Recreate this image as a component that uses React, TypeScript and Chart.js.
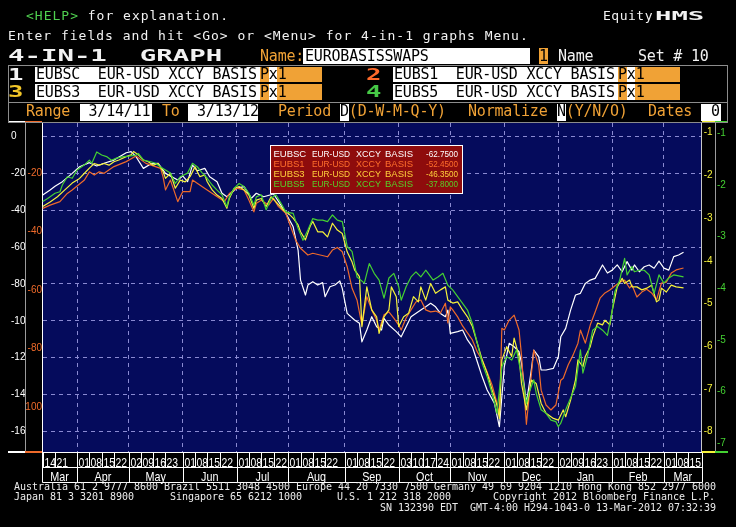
import React, { useEffect, useRef } from "react";
import { Chart, registerables } from "chart.js";

Chart.register(...registerables);

// ---------------- data (x = trading-day index from 14-Mar-2011) ----------------
const seriesCodes = ["EUBSC", "EUBS1", "EUBS3", "EUBS5"];
const seriesDesc = "EUR-USD XCCY BASIS";

const eubscDays = [0,3,5,8,12,15,19,22,25,29,34,36,38,41,44,47,50,55,57,59,61,63,66,68,71,73,75,79,82,85,87,90,94,97,99,102,104,105,107,108,110,112,114,115,117,119,121,122,124,127,129,130,132,134,136,138,139,141,144,146,148,150,154,156,158,160,162,164,165,166,169,171,173,175,177,179,181,184,186,188,190,192,194,195,197,199,200,202,203,205,208,210,211,213,215,217,219,221,223,225,228,230,232,234,236,238,240,241,243,245,247,249,251,253,255,257,259,261];
const eubscVals = [-31.7,-29.0,-27.0,-24.5,-20.0,-16.4,-14.2,-16.0,-14.5,-12.8,-8.8,-8.2,-11.0,-17.3,-14.9,-14.5,-20.0,-23.6,-21.4,-24.5,-15.5,-18.6,-17.3,-21.8,-24.5,-30.8,-32.7,-28.1,-27.2,-33.5,-30.8,-32.7,-31.2,-37.2,-41.7,-49.0,-61.6,-77.9,-86.0,-80.6,-78.8,-80.6,-79.3,-86.9,-81.5,-80.6,-78.4,-82.4,-96.0,-99.6,-101.4,-111.4,-105.0,-97.8,-103.2,-105.0,-98.7,-102.3,-105.9,-108.7,-103.2,-97.8,-94.2,-92.4,-90.5,-92.4,-96.0,-97.8,-94.2,-106.8,-105.9,-105.0,-110.4,-114.1,-122.2,-130.4,-137.6,-144.8,-157.5,-124.9,-112.2,-114.1,-116.8,-122.9,-144.8,-126.7,-115.9,-119.5,-126.7,-126.7,-125.8,-119.5,-108.7,-104.1,-94.2,-86.0,-85.1,-79.7,-77.9,-77.0,-69.7,-74.1,-72.5,-69.7,-73.4,-67.9,-72.5,-69.7,-73.4,-70.7,-69.7,-71.5,-67.6,-71.4,-72.5,-65.2,-64.3,-62.75];

const eubs1Days = [0,3,7,10,12,17,19,21,23,25,29,34,38,42,48,49,50,52,55,57,60,61,65,70,74,76,79,82,84,86,87,89,92,94,96,99,101,103,105,108,110,113,116,118,120,122,124,126,128,130,132,134,136,137,139,141,143,145,146,148,150,152,154,156,158,160,162,164,165,166,167,169,171,173,175,177,179,181,183,185,186,187,188,190,192,194,195,197,199,200,202,203,205,207,209,211,212,214,216,218,219,221,223,225,227,229,231,233,235,237,239,240,242,244,246,248,250,252,254,256,258,261];
const eubs1Vals = [-32.0,-30.9,-29.7,-26.9,-25.7,-22.3,-19.5,-20.6,-19.5,-20.0,-17.7,-16.0,-14.1,-16.6,-18.3,-21.2,-25.7,-22.3,-29.7,-26.3,-26.3,-22.3,-24.6,-27.4,-29.7,-26.9,-25.1,-25.7,-29.2,-33.2,-30.3,-29.2,-30.9,-28.6,-31.4,-33.7,-38.3,-42.9,-45.7,-48.0,-47.4,-48.0,-48.6,-46.3,-45.4,-46.9,-52.0,-59.4,-63.4,-72.0,-62.3,-66.8,-70.3,-73.7,-68.5,-67.5,-69.6,-72.0,-73.7,-69.6,-66.8,-64.1,-63.4,-66.8,-67.5,-67.2,-67.9,-64.5,-71.3,-65.8,-66.8,-69.2,-72.3,-74.7,-77.1,-81.2,-84.0,-88.1,-92.5,-98.7,-102.8,-73.1,-73.7,-70.3,-68.6,-73.7,-82.3,-106.0,-89.1,-80.6,-85.7,-94.3,-99.4,-101.1,-99.4,-90.9,-90.2,-85.7,-82.3,-78.2,-73.7,-78.2,-72.0,-67.5,-62.8,-61.0,-60.0,-58.6,-57.3,-56.6,-59.3,-58.3,-62.4,-60.7,-59.7,-61.0,-63.4,-57.6,-57.3,-54.2,-53.1,-52.45];

const eubs3Days = [0,3,6,9,12,15,17,19,21,23,25,27,29,31,34,36,37,39,41,43,45,47,49,50,52,54,56,58,60,62,64,66,67,69,71,73,75,76,78,80,82,84,86,87,89,91,93,95,98,100,102,104,105,107,109,110,112,114,116,118,120,122,124,126,127,129,130,132,134,136,137,139,141,142,144,145,147,149,151,153,154,156,158,160,162,164,165,167,169,171,173,175,177,179,181,183,185,186,187,189,191,192,194,195,197,199,201,203,205,208,210,212,213,215,217,218,220,221,223,224,226,228,229,231,232,234,236,237,239,240,242,244,246,248,250,251,252,254,256,258,261];
const eubs3Vals = [-27.3,-26.2,-25.0,-23.4,-21.8,-20.7,-19.5,-18.3,-17.2,-17.6,-17.2,-17.6,-16.8,-16.4,-15.6,-15.2,-14.4,-15.2,-16.4,-16.8,-17.6,-17.2,-19.1,-20.7,-19.5,-23.0,-21.1,-21.5,-20.3,-18.0,-20.3,-19.9,-21.5,-23.4,-24.6,-25.4,-27.7,-25.4,-23.0,-22.6,-23.4,-24.6,-27.7,-25.8,-25.4,-27.3,-25.0,-26.2,-28.1,-28.9,-30.0,-31.6,-33.2,-35.1,-31.8,-30.8,-33.2,-33.2,-34.4,-31.2,-32.8,-33.6,-37.9,-40.3,-42.1,-43.7,-55.4,-46.1,-51.5,-53.1,-57.0,-53.1,-51.5,-46.1,-48.4,-55.4,-53.1,-52.3,-48.4,-49.6,-46.1,-49.2,-45.3,-47.6,-46.8,-46.1,-49.2,-49.9,-49.6,-51.5,-53.1,-55.4,-59.3,-63.2,-66.3,-70.2,-73.8,-76.9,-63.2,-60.1,-62.4,-58.1,-62.4,-68.7,-74.9,-67.9,-68.7,-73.4,-75.7,-76.9,-77.3,-74.9,-76.5,-72.6,-67.9,-63.2,-64.8,-62.4,-60.1,-57.8,-54.6,-55.0,-53.9,-55.0,-51.5,-46.1,-44.1,-45.3,-44.5,-46.1,-46.1,-46.8,-46.4,-45.7,-49.6,-49.2,-46.4,-47.3,-45.7,-46.1,-46.35];

const eubs5Days = [0,2,5,7,8,10,12,14,17,19,20,22,24,26,28,30,33,35,38,39,41,44,46,48,50,52,54,56,59,61,63,65,67,69,71,73,75,76,78,80,82,84,86,87,89,91,93,95,97,99,102,104,106,108,110,112,114,116,118,120,122,124,126,128,131,133,135,137,139,141,143,145,146,148,150,152,154,156,157,159,161,163,165,167,169,171,173,175,177,179,181,183,185,187,189,191,193,194,196,197,198,200,201,203,205,207,209,210,211,213,215,217,219,220,222,224,226,228,230,232,233,235,237,238,240,241,243,245,247,249,251,253,255,257,261];
const eubs5Vals = [-23.2,-22.6,-21.6,-21.3,-20.0,-18.4,-18.7,-17.1,-16.1,-15.2,-15.8,-13.6,-14.2,-14.5,-15.2,-14.8,-14.5,-14.4,-14.2,-13.9,-15.2,-15.5,-15.8,-16.5,-17.1,-17.7,-19.7,-18.4,-17.7,-15.8,-16.5,-17.7,-18.7,-20.0,-21.0,-21.9,-24.2,-22.3,-20.6,-19.7,-20.3,-21.6,-23.9,-22.3,-21.9,-24.8,-22.6,-21.9,-23.5,-25.2,-25.5,-28.4,-30.7,-28.7,-26.5,-26.8,-26.8,-27.1,-25.8,-26.8,-27.1,-31.9,-32.9,-37.8,-39.0,-35.2,-37.1,-38.4,-41.9,-38.0,-37.1,-39.7,-42.3,-39.7,-37.8,-36.8,-37.8,-36.5,-37.1,-38.4,-37.8,-37.1,-39.4,-40.3,-41.6,-42.9,-44.2,-46.8,-50.6,-54.5,-57.1,-60.3,-64.2,-55.2,-53.2,-53.9,-51.9,-54.5,-59.0,-62.3,-60.3,-57.7,-60.3,-63.5,-64.2,-65.5,-65.8,-66.8,-66.1,-63.5,-61.2,-59.0,-51.9,-56.4,-52.9,-48.1,-47.4,-48.1,-49.1,-44.2,-40.7,-38.4,-34.2,-37.4,-35.8,-36.8,-36.5,-36.5,-37.4,-41.0,-37.4,-39.0,-38.0,-37.4,-37.8];

const monthStartDays = [14, 35, 57, 79, 100, 123, 145, 166, 188, 210, 232, 253];
const monthNames = ["Mar","Apr","May","Jun","Jul","Aug","Sep","Oct","Nov","Dec","Jan","Feb","Mar"];
const dayTickDays = [0,5,14,19,24,29,35,40,45,50,57,62,67,72,79,84,89,94,100,105,110,115,123,128,133,138,145,150,155,160,166,171,176,181,188,193,198,203,210,215,220,225,232,237,242,247,253,258,263];
const dayTickLabels = ["14","21","01","08","15","22","02","09","16","23","01","08","15","22","01","08","15","22","01","08","15","22","01","08","15","22","03","10","17","24","01","08","15","22","01","08","15","22","02","09","16","23","01","08","15","22","01","08","15"];

const axisCTicks = [0,-20,-40,-60,-80,-100,-120,-140,-160];
const axisCLabels = ["0","-20","-40","-60","-80","-10","-12","-14","-16"];
const axis1Ticks = [-20,-40,-60,-80,-100];
const axis1Labels = ["-20","-40","-60","-80","-100"];
const axis3Ticks = [-10,-20,-30,-40,-50,-60,-70,-80];
const axis3Labels = ["-1","-2","-3","-4","-5","-6","-7","-8"];
const axis5Ticks = [-10,-20,-30,-40,-50,-60,-70];
const axis5Labels = ["-1","-2","-3","-4","-5","-6","-7"];

// ---------------- styling ----------------
const PLOT_BG = "#050b5c";
const GRID = "#8a8ad2";
const COL_W = "#ffffff";
const COL_O = "#ee6a2a";
const COL_Y = "#f6f23a";
const COL_G = "#44d032";
const LEG_COLORS = ["#ffffff", "#ff6f2c", "#ffd23c", "#58d028"];
const AMBER = "#f0a236";
const MONO = '"DejaVu Sans Mono", monospace';
const SANS = '"Liberation Sans", Arial, sans-serif';

const pts = (d: number[], v: number[]) => d.map((x, i) => ({ x, y: v[i] }));

const setTicks = (arr: number[]) => (s: any) => {
  s.ticks = arr.map((v) => ({ value: v }));
};

const bgPlugin = {
  id: "plotBg",
  beforeDraw(chart: any) {
    const { ctx, chartArea: a } = chart;
    ctx.save();
    ctx.fillStyle = PLOT_BG;
    ctx.fillRect(a.left, a.top, a.right - a.left, a.bottom - a.top);
    ctx.restore();
  },
};

const legendPlugin = {
  id: "bbgLegend",
  afterDatasetsDraw(chart: any) {
    const ctx = chart.ctx;
    ctx.save();
    ctx.fillStyle = "#8e0c0c";
    ctx.fillRect(270, 145, 193, 49);
    ctx.strokeStyle = "#ffffff";
    ctx.lineWidth = 1;
    ctx.strokeRect(270.5, 145.5, 192, 48);
    ctx.font = "9.5px " + SANS;
    ctx.textBaseline = "alphabetic";
    const base = [156.5, 166.7, 176.9, 187.1];
    chart.data.datasets.forEach((ds: any, i: number) => {
      const last = ds.data[ds.data.length - 1].y;
      ctx.fillStyle = LEG_COLORS[i];
      ctx.textAlign = "left";
      ctx.fillText(seriesCodes[i], 273.5, base[i], 33);
      const words = seriesDesc.split(" ");
      ctx.fillText(words[0], 312, base[i], 38);
      ctx.fillText(words[1], 356, base[i], 25);
      ctx.fillText(words[2], 385, base[i], 28);
      ctx.textAlign = "right";
      ctx.fillText(last.toFixed(4), 458, base[i], 32);
    });
    ctx.restore();
  },
};

const dateAxisPlugin = {
  id: "dateAxis",
  afterDraw(chart: any) {
    const ctx = chart.ctx;
    const xs = chart.scales.x;
    const a = chart.chartArea;
    const top = Math.round(a.bottom) + 0.5;
    const mid = top + 15;
    const bot = top + 30;
    const L = Math.round(a.left) + 0.5;
    const R = Math.round(a.right) + 0.5;
    const line = (x1: number, y1: number, x2: number, y2: number) => {
      ctx.beginPath();
      ctx.moveTo(x1, y1);
      ctx.lineTo(x2, y2);
      ctx.stroke();
    };
    ctx.save();
    ctx.strokeStyle = "#ffffff";
    ctx.lineWidth = 1;
    line(L, top, R, top);
    line(L, mid, R, mid);
    line(L, bot, R, bot);
    line(L, top, L, bot);
    line(R, top, R, bot);
    ctx.fillStyle = "#ffffff";
    ctx.font = "13px " + SANS;
    ctx.textBaseline = "alphabetic";
    dayTickDays.forEach((d, i) => {
      const px = Math.round(xs.getPixelForValue(d)) + 0.5;
      line(px, top, px, mid);
      ctx.save();
      ctx.translate(px + 1, mid - 1);
      ctx.scale(0.8, 1);
      ctx.textAlign = "left";
      ctx.fillText(dayTickLabels[i], 0, 0);
      ctx.restore();
    });
    const bounds = [a.left, ...monthStartDays.map((d) => xs.getPixelForValue(d)), a.right];
    monthStartDays.forEach((d) => {
      const px = Math.round(xs.getPixelForValue(d)) + 0.5;
      line(px, mid, px, bot);
    });
    monthNames.forEach((m, i) => {
      const c = (bounds[i] + bounds[i + 1]) / 2;
      ctx.save();
      ctx.translate(c, bot - 1.5);
      ctx.scale(0.83, 1);
      ctx.textAlign = "center";
      ctx.fillText(m, 0, 0);
      ctx.restore();
    });
    // coloured axis-panel strips
    const strips: [number, number, string][] = [
      [8, 17, COL_W],
      [25, 17, COL_O],
      [702, 13, COL_Y],
      [715, 13, COL_G],
    ];
    strips.forEach(([x, w, c]) => {
      ctx.fillStyle = c;
      ctx.fillRect(x, a.top - 2, w, 2);
      ctx.fillRect(x, a.bottom - 1, w, 2);
    });
    ctx.restore();
  },
};

function T(props: any) {
  const { x, base, size = 15, color = "#f2f2f2", ls = -0.2, bold = false, sx = 1, bg, children } = props;
  const asc = 0.928 * size;
  return (
    <div
      style={{
        position: "absolute",
        left: x,
        top: base - asc,
        fontFamily: MONO,
        fontSize: size,
        lineHeight: `${size * 1.164}px`,
        letterSpacing: ls,
        fontWeight: bold ? "bold" : "normal",
        color,
        background: bg,
        whiteSpace: "pre",
        transform: sx !== 1 ? `scaleX(${sx})` : undefined,
        transformOrigin: "left top",
        zIndex: 2,
      }}
    >
      {children}
    </div>
  );
}

function Box(props: any) {
  const { x, y, w, h, bg, border } = props;
  return (
    <div
      style={{
        position: "absolute",
        left: x,
        top: y,
        width: w,
        height: h,
        background: bg || "transparent",
        border: border ? `1px solid ${border}` : undefined,
        boxSizing: "border-box",
        zIndex: 1,
      }}
    />
  );
}

function SeriesRow(props: any) {
  const { x, base, y, num, numColor, code } = props;
  return (
    <>
      <T x={x} base={base + 0.5} size={16} bold sx={1.6} ls={0} color={numColor}>{num}</T>
      <Box x={x + 27} y={y} w={225} h={15.5} bg="#ffffff" />
      <T x={x + 28} base={base} color="#000000">{`${code}  ${seriesDesc}`}</T>
      <Box x={x + 252} y={y} w={8.5} h={15.5} bg={AMBER} />
      <Box x={x + 260.5} y={y} w={8.5} h={15.5} bg="#ffffff" />
      <Box x={x + 269} y={y} w={45} h={15.5} bg={AMBER} />
      <T x={x + 252} base={base} color="#000000">{"Px1"}</T>
    </>
  );
}

export default function App() {
  const ref = useRef<HTMLCanvasElement>(null);

  useEffect(() => {
    document.body.style.margin = "0";
    document.body.style.background = "#000";
    const canvas = ref.current;
    if (!canvas) return;
    const common = { pointRadius: 0, borderWidth: 1.2, tension: 0, borderJoinStyle: "round" as const };
    const chart = new Chart(canvas, {
      type: "line",
      data: {
        datasets: [
          { label: seriesCodes[0], data: pts(eubscDays, eubscVals), yAxisID: "yC", borderColor: COL_W, order: 4, ...common },
          { label: seriesCodes[1], data: pts(eubs1Days, eubs1Vals), yAxisID: "y1", borderColor: COL_O, order: 3, ...common },
          { label: seriesCodes[2], data: pts(eubs3Days, eubs3Vals), yAxisID: "y3", borderColor: COL_Y, order: 2, ...common },
          { label: seriesCodes[3], data: pts(eubs5Days, eubs5Vals), yAxisID: "y5", borderColor: COL_G, order: 1, ...common },
        ],
      },
      options: {
        responsive: false,
        animation: false,
        devicePixelRatio: 1,
        layout: { padding: { left: 11, right: 8, top: 123, bottom: 44 } },
        plugins: { legend: { display: false }, tooltip: { enabled: false } },
        scales: {
          x: {
            type: "linear",
            position: "bottom",
            min: -0.3,
            max: 268.4,
            bounds: "data",
            afterBuildTicks: setTicks(monthStartDays),
            afterFit: (s: any) => { s.height = 31; },
            ticks: { display: false },
            grid: { color: GRID, lineWidth: 1, drawTicks: false },
            border: { display: true, color: "#ffffff", width: 1, dash: [4, 4] },
          },
          yC: {
            type: "linear",
            position: "left",
            weight: 2,
            min: -171.2,
            max: 7.33,
            bounds: "data",
            afterBuildTicks: setTicks(axisCTicks),
            afterFit: (s: any) => { s.width = 14; },
            ticks: { autoSkip: false, crossAlign: "far", padding: 0, color: "#ffffff", font: { family: SANS, size: 10 }, callback: (_v: any, i: number) => axisCLabels[i] },
            grid: { color: GRID, lineWidth: 1, drawTicks: false },
            border: { display: true, color: "#9c9c9c", width: 1, dash: [4, 4] },
          },
          y1: {
            type: "linear",
            position: "left",
            weight: 1,
            min: -115.5,
            max: -2.76,
            bounds: "data",
            afterBuildTicks: setTicks(axis1Ticks),
            afterFit: (s: any) => { s.width = 17; },
            ticks: { autoSkip: false, crossAlign: "near", padding: 0, color: COL_O, font: { family: SANS, size: 10 }, callback: (_v: any, i: number) => axis1Labels[i] },
            grid: { drawOnChartArea: false, drawTicks: false },
            border: { display: true, color: "#ffffff", width: 1 },
          },
          y3: {
            type: "linear",
            position: "right",
            weight: 1,
            min: -84.76,
            max: -7.73,
            bounds: "data",
            afterBuildTicks: setTicks(axis3Ticks),
            afterFit: (s: any) => { s.width = 13.3; },
            ticks: { autoSkip: false, padding: 2, color: COL_Y, font: { family: SANS, size: 10 }, callback: (_v: any, i: number) => axis3Labels[i] },
            grid: { drawOnChartArea: false, drawTicks: false },
            border: { display: true, color: "#c8c8c8", width: 1 },
          },
          y5: {
            type: "linear",
            position: "right",
            weight: 2,
            min: -71.68,
            max: -8.0,
            bounds: "data",
            afterBuildTicks: setTicks(axis5Ticks),
            afterFit: (s: any) => { s.width = 13; },
            ticks: { autoSkip: false, padding: 2, color: COL_G, font: { family: SANS, size: 10 }, callback: (_v: any, i: number) => axis5Labels[i] },
            grid: { drawOnChartArea: false, drawTicks: false },
            border: { display: true, color: "#9c9c9c", width: 1 },
          },
        },
      } as any,
      plugins: [bgPlugin, legendPlugin, dateAxisPlugin],
    });
    return () => chart.destroy();
  }, []);

  return (
    <div style={{ position: "absolute", left: 0, top: 0, width: 736, height: 527, background: "#000", overflow: "hidden" }}>
      <canvas ref={ref} width={736} height={527} style={{ position: "absolute", left: 0, top: 0, width: 736, height: 527, zIndex: 0 }} />

      {/* line 1 */}
      <T x={26} base={20.5} size={13} ls={1}>
        <span style={{ color: "#4fcf4f" }}>{"<HELP>"}</span>
        {" for explanation."}
      </T>
      <T x={603} base={20.5} size={13} ls={0.5}>{"Equity"}</T>
      <T x={655} base={20.5} size={13} ls={0} bold sx={2.1}>{"HMS"}</T>

      {/* line 2 */}
      <T x={8} base={40} size={13} ls={1}>{"Enter fields and hit <Go> or <Menu> for 4-in-1 graphs Menu."}</T>

      {/* line 3 */}
      <T x={8} base={61.7} size={16} ls={0} bold sx={1.71}>{"4-IN-1  GRAPH"}</T>
      <T x={260} base={61.5} color={AMBER}>{"Name:"}</T>
      <Box x={303} y={48.3} w={227} h={15.7} bg="#ffffff" />
      <T x={305} base={61.5} color="#000000">{"EUROBASISSWAPS"}</T>
      <Box x={538.5} y={48.3} w={9.5} h={15.7} bg={AMBER} />
      <T x={539} base={61.5} color="#000000">{"1"}</T>
      <T x={558} base={61.5}>{"Name"}</T>
      <T x={638} base={61.5}>{"Set # 10"}</T>

      {/* series rows */}
      <Box x={7.5} y={65} w={720} h={38} border="#8c8c8c" />
      <SeriesRow x={8} base={80} y={66.5} num="1" numColor="#f4f4f4" code="EUBSC" />
      <SeriesRow x={366} base={80} y={66.5} num="2" numColor="#ff6a2a" code="EUBS1" />
      <SeriesRow x={8} base={97.6} y={84.2} num="3" numColor="#f2c628" code="EUBS3" />
      <SeriesRow x={366} base={97.6} y={84.2} num="4" numColor="#46c846" code="EUBS5" />

      {/* range row */}
      <Box x={7.5} y={102} w={720} h={21} border="#8c8c8c" />
      <T x={26} base={116.8} color={AMBER}>{"Range"}</T>
      <Box x={80} y={104} w={72} h={16.7} bg="#ffffff" />
      <T x={88.5} base={116.8} color="#000000">{"3/14/11"}</T>
      <T x={162} base={116.8} color={AMBER}>{"To"}</T>
      <Box x={188} y={104} w={70} h={16.7} bg="#ffffff" />
      <T x={197} base={116.8} color="#000000">{"3/13/12"}</T>
      <T x={278} base={116.8} color={AMBER}>{"Period"}</T>
      <Box x={340} y={104} w={8.8} h={16.7} bg="#ffffff" />
      <T x={340} base={116.8} color="#000000">{"D"}</T>
      <T x={348.8} base={116.8} color={AMBER}>{"(D-W-M-Q-Y)"}</T>
      <T x={468} base={116.8} color={AMBER}>{"Normalize"}</T>
      <Box x={557} y={104} w={8.8} h={16.7} bg="#ffffff" />
      <T x={557} base={116.8} color="#000000">{"N"}</T>
      <T x={565.8} base={116.8} color={AMBER}>{"(Y/N/O)"}</T>
      <T x={648} base={116.8} color={AMBER}>{"Dates"}</T>
      <Box x={701} y={104} w={20} h={16.7} bg="#ffffff" />
      <T x={711} base={116.8} color="#000000">{"0"}</T>

      {/* footer */}
      <T x={14} base={490.7} size={10} ls={-0.02} color="#ececec">
        {"Australia 61 2 9777 8600 Brazil 5511 3048 4500 Europe 44 20 7330 7500 Germany 49 69 9204 1210 Hong Kong 852 2977 6000"}
      </T>
      <T x={14} base={500.7} size={10} ls={-0.02} color="#ececec">{"Japan 81 3 3201 8900"}</T>
      <T x={170} base={500.7} size={10} ls={-0.02} color="#ececec">{"Singapore 65 6212 1000"}</T>
      <T x={337} base={500.7} size={10} ls={-0.02} color="#ececec">{"U.S. 1 212 318 2000"}</T>
      <T x={493} base={500.7} size={10} ls={-0.02} color="#ececec">{"Copyright 2012 Bloomberg Finance L.P."}</T>
      <T x={380} base={511} size={10} ls={-0.02} color="#ececec">{"SN 132390 EDT  GMT-4:00 H294-1043-0 13-Mar-2012 07:32:39"}</T>
    </div>
  );
}
